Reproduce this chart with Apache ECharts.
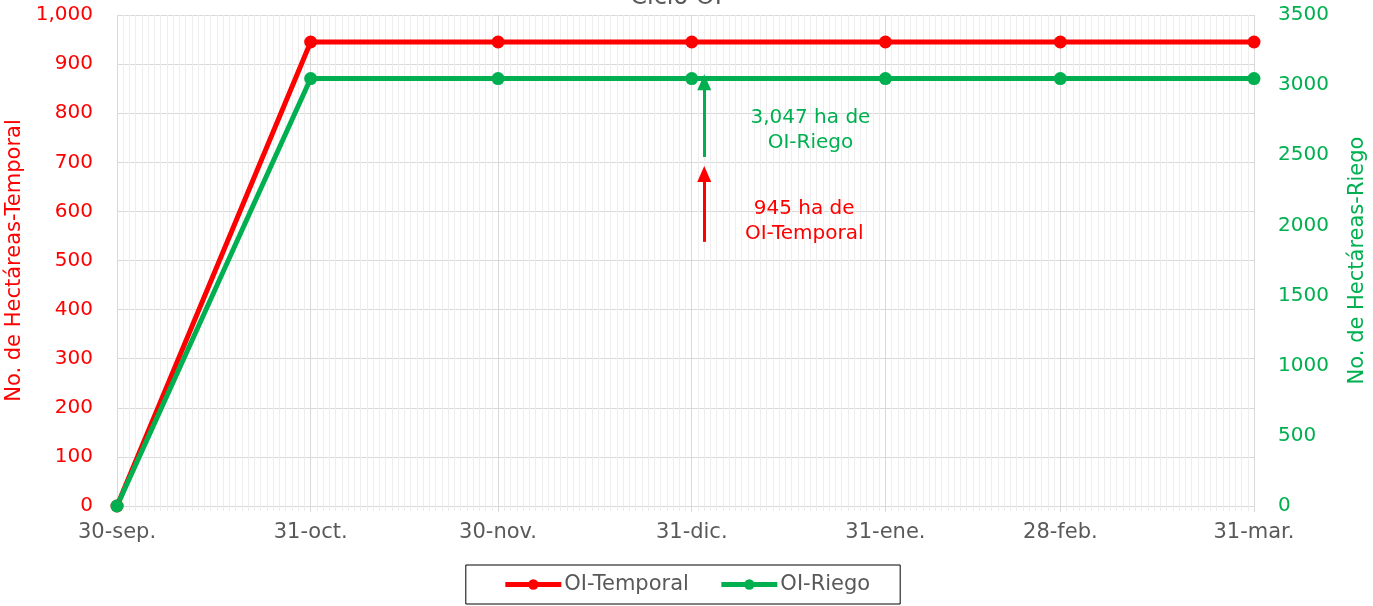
<!DOCTYPE html>
<html>
<head>
<meta charset="utf-8">
<script src="https://cdn.jsdelivr.net/npm/echarts@6/dist/echarts.min.js"></script>
<style>
  html, body { margin: 0; padding: 0; background: #ffffff; }
  #chart { width: 1373px; height: 606px; }
</style>
</head>
<body>
<div id="chart"></div>
<script>
// ---- Data ----
const fechas = ['2024-09-30', '2024-10-31', '2024-11-30', '2024-12-31', '2025-01-31', '2025-02-28', '2025-03-31'];
const etiquetas = ['30-sep.', '31-oct.', '30-nov.', '31-dic.', '31-ene.', '28-feb.', '31-mar.'];
const temporal = [0, 945, 945, 945, 945, 945, 945];
const riego = [0, 3047, 3047, 3047, 3047, 3047, 3047];
const tituloTexto = 'Ciclo OI';
const nombresSeries = ['OI-Temporal', 'OI-Riego'];
const ejeIzqNombre = 'No. de Hectáreas-Temporal';
const ejeDerNombre = 'No. de Hectáreas-Riego';
const notaRiego = { fecha: '2025-01-19', valor: 2680, texto: ['3,047 ha de', 'OI-Riego'] };
const notaTemporal = { fecha: '2025-01-18', valor: 580, texto: ['945 ha de', 'OI-Temporal'] };
const flechaRiego = { fecha: '2025-01-02', desde: 2488, hasta: 3020 };
const flechaTemporal = { fecha: '2025-01-02', desde: 538, hasta: 676 };

// daily categories spanning the axis
function buildDays(a, b) {
  const out = [];
  const s = new Date(a + 'T00:00:00Z'), e = new Date(b + 'T00:00:00Z');
  for (let d = s; d <= e; d = new Date(d.getTime() + 86400000)) {
    out.push(d.toISOString().slice(0, 10));
  }
  return out;
}
const dias = buildDays(fechas[0], fechas[fechas.length - 1]);

const RED = '#FF0000', GREEN = '#00B050', GREY = '#595959';
const FONT = '"DejaVu Sans", "Noto Sans", sans-serif';

const chart = echarts.init(document.getElementById('chart'));
const isMajor = (i, v) => fechas.indexOf(v) >= 0;

chart.setOption({
  animation: false,
  backgroundColor: '#ffffff',
  textStyle: { fontFamily: FONT },
  grid: { left: 117, right: 119, top: 15, bottom: 100, containLabel: false, outerBoundsMode: 'none' },
  graphic: [{
    type: 'text', x: 676, y: -2,
    style: { text: tituloTexto, fill: GREY, font: '24px ' + FONT, textAlign: 'center', textVerticalAlign: 'middle' }
  }],
  legend: {
    top: 565, left: 'center',
    data: nombresSeries,
    itemWidth: 56, itemHeight: 13, itemGap: 30,
    padding: [9, 30, 9, 37],
    borderColor: '#000000', borderWidth: 1,
    lineStyle: { width: 5 },
    textStyle: { color: GREY, fontSize: 21, fontFamily: FONT, padding: [0, 0, 0, -2] }
  },
  xAxis: [{
    type: 'category', data: dias, boundaryGap: false,
    axisLine: { show: false },
    axisTick: { show: true, interval: 0, length: 5, lineStyle: { color: '#ececec' } },
    axisLabel: { show: false },
    splitLine: { show: true, interval: 0, lineStyle: { color: '#eeeeee', width: 1 } }
  }, {
    type: 'category', data: dias, boundaryGap: false, position: 'bottom',
    axisLine: { show: true, lineStyle: { color: '#d9d9d9', width: 1 } },
    axisTick: { show: true, interval: isMajor, length: 6, lineStyle: { color: '#d9d9d9' } },
    axisLabel: {
      show: true, interval: isMajor, margin: 16,
      color: GREY, fontSize: 21, fontFamily: FONT,
      formatter: v => etiquetas[fechas.indexOf(v)]
    },
    splitLine: { show: true, interval: isMajor, lineStyle: { color: '#d9d9d9', width: 1 } }
  }],
  yAxis: [{
    type: 'value', min: 0, max: 1000, interval: 100,
    name: ejeIzqNombre, nameLocation: 'middle', nameRotate: 90, nameGap: 85,
    nameTextStyle: { color: RED, fontSize: 21, fontFamily: FONT },
    axisLine: { show: false }, axisTick: { show: false },
    axisLabel: { color: RED, fontSize: 20, margin: 24, fontFamily: FONT,
      formatter: v => v.toLocaleString('en-US') },
    splitLine: { show: true, lineStyle: { color: '#d9d9d9', width: 1 } }
  }, {
    type: 'value', min: 0, max: 3500, interval: 500, position: 'right',
    name: ejeDerNombre, nameLocation: 'middle', nameRotate: 90, nameGap: 93,
    nameTextStyle: { color: GREEN, fontSize: 21, fontFamily: FONT },
    axisLine: { show: false }, axisTick: { show: false },
    axisLabel: { color: GREEN, fontSize: 20, margin: 24, fontFamily: FONT,
      formatter: v => String(v) },
    splitLine: { show: false }
  }],
  series: [{
    name: nombresSeries[0], type: 'line', xAxisIndex: 0, yAxisIndex: 0,
    data: fechas.map((f, i) => [f, temporal[i]]),
    symbol: 'circle', symbolSize: 13, showSymbol: true, showAllSymbol: true,
    lineStyle: { color: RED, width: 5 }, itemStyle: { color: RED },
    markLine: {
      silent: true, symbol: ['none', 'triangle'], symbolSize: [14, 16],
      lineStyle: { color: RED, width: 3, type: 'solid' }, label: { show: false },
      data: [[{ coord: [flechaTemporal.fecha, flechaTemporal.desde] }, { coord: [flechaTemporal.fecha, flechaTemporal.hasta] }]]
    },
    markPoint: {
      symbol: 'circle', symbolSize: 0,
      label: { show: true, color: RED, fontSize: 20, lineHeight: 25, fontFamily: FONT, align: 'center',
        formatter: () => notaTemporal.texto.join('\n') },
      data: [{ coord: [notaTemporal.fecha, notaTemporal.valor] }]
    }
  }, {
    name: nombresSeries[1], type: 'line', xAxisIndex: 0, yAxisIndex: 1,
    data: fechas.map((f, i) => [f, riego[i]]),
    symbol: 'circle', symbolSize: 13, showSymbol: true, showAllSymbol: true,
    lineStyle: { color: GREEN, width: 5 }, itemStyle: { color: GREEN },
    markLine: {
      silent: true, symbol: ['none', 'triangle'], symbolSize: [14, 16],
      lineStyle: { color: GREEN, width: 3, type: 'solid' }, label: { show: false },
      data: [[{ coord: [flechaRiego.fecha, flechaRiego.desde] }, { coord: [flechaRiego.fecha, flechaRiego.hasta] }]]
    },
    markPoint: {
      symbol: 'circle', symbolSize: 0,
      label: { show: true, color: GREEN, fontSize: 20, lineHeight: 25, fontFamily: FONT, align: 'center',
        formatter: () => notaRiego.texto.join('\n') },
      data: [{ coord: [notaRiego.fecha, notaRiego.valor] }]
    }
  }]
});
</script>
</body>
</html>
